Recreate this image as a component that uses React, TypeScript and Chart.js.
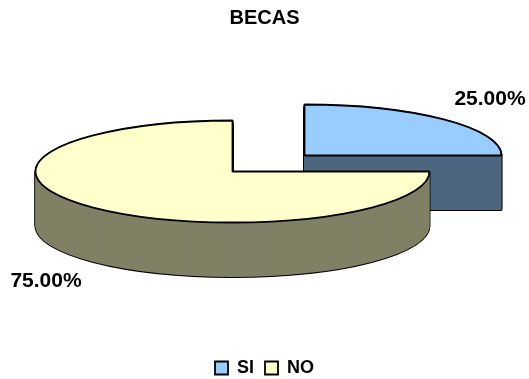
import React, { useEffect, useRef } from "react";
import { Chart, registerables } from "chart.js";

Chart.register(...registerables);

const chartTitle = "BECAS";
const categories = ["SI", "NO"];
const shares = [25, 75];
const topColors = ["#99CCFF", "#FFFFCC"];
const sideColors = ["#4D6680", "#808066"];

// Slice layout on the canvas: resting centre, tilt, wall height, pull-out per slice.
const pieRadius = 197;
const pieCenter = { x: 232.5, y: 171.5 };
const tilt = 51 / 197;
const wallHeight = 54.5;
const sliceShift = [
  { x: 72, y: -16 },
  { x: 0, y: 0 },
];
const labelAnchors = [
  { x: 490, y: 99 },
  { x: 46, y: 281 },
];
const outlineWidth = 1.8;
const labelFont = 'bold 21px "Liberation Sans"';

// Fills a slice element under the tilted transform; strokes stay round and even.
function paintSlice(ctx: any, el: any, i: number, lift: number, opts: any) {
  const saved = el.options;
  el.options = { ...saved, ...opts };
  ctx.save();
  ctx.translate(pieCenter.x + sliceShift[i].x, pieCenter.y + sliceShift[i].y + lift);
  ctx.scale(1, tilt);
  ctx.translate(-el.x, -el.y);
  ctx.stroke = function () {
    const m = ctx.getTransform();
    ctx.resetTransform();
    CanvasRenderingContext2D.prototype.stroke.call(ctx);
    ctx.setTransform(m);
  };
  el.draw(ctx);
  delete ctx.stroke;
  ctx.restore();
  el.options = saved;
}

const tiltedPie = {
  id: "tiltedPie",
  beforeDatasetsDraw(chart: any) {
    const ctx = chart.ctx;
    const arcs = chart.getDatasetMeta(0).data;
    arcs.forEach((el: any, i: number) => {
      // Outline of the extruded wall, then its fill, then the top face.
      for (let d = wallHeight; d >= 0; d--) {
        paintSlice(ctx, el, i, d, {
          backgroundColor: "#000000",
          borderColor: "#000000",
          borderWidth: outlineWidth,
        });
      }
      for (let d = wallHeight; d >= 0; d--) {
        paintSlice(ctx, el, i, d, {
          backgroundColor: sideColors[i],
          borderWidth: 0,
        });
      }
      paintSlice(ctx, el, i, 0, {
        backgroundColor: topColors[i],
        borderColor: "#000000",
        borderWidth: outlineWidth,
      });
    });

    ctx.save();
    ctx.font = labelFont;
    ctx.fillStyle = "#000000";
    ctx.textAlign = "center";
    ctx.textBaseline = "middle";
    shares.forEach((v, i) => {
      ctx.fillText(`${v.toFixed(2)}%`, labelAnchors[i].x, labelAnchors[i].y);
    });
    ctx.restore();
    return false;
  },
};

export default function App() {
  const canvasRef = useRef<HTMLCanvasElement>(null);

  useEffect(() => {
    const chart = new Chart(canvasRef.current as HTMLCanvasElement, {
      type: "pie",
      data: {
        labels: categories,
        datasets: [
          {
            data: shares,
            backgroundColor: topColors,
            borderColor: "#000000",
            borderWidth: outlineWidth,
            radius: pieRadius,
          } as any,
        ],
      },
      options: {
        animation: false,
        responsive: false,
        layout: { padding: { bottom: -8 } },
        plugins: {
          title: {
            display: true,
            text: chartTitle,
            color: "#000000",
            font: { family: "Liberation Sans", size: 20, weight: "bold" },
            padding: { top: 6, bottom: 10 },
          },
          legend: {
            position: "bottom",
            labels: {
              color: "#000000",
              font: { family: "Liberation Sans", size: 18, weight: "bold" },
              boxWidth: 13,
              boxHeight: 13,
              padding: 11,
            },
          },
          tooltip: { enabled: false },
        },
      },
      plugins: [tiltedPie],
    } as any);
    return () => chart.destroy();
  }, []);

  return (
    <div style={{ position: "fixed", left: 0, top: 0, width: 529, height: 379 }}>
      <canvas ref={canvasRef} width={529} height={379} style={{ display: "block" }} />
    </div>
  );
}
